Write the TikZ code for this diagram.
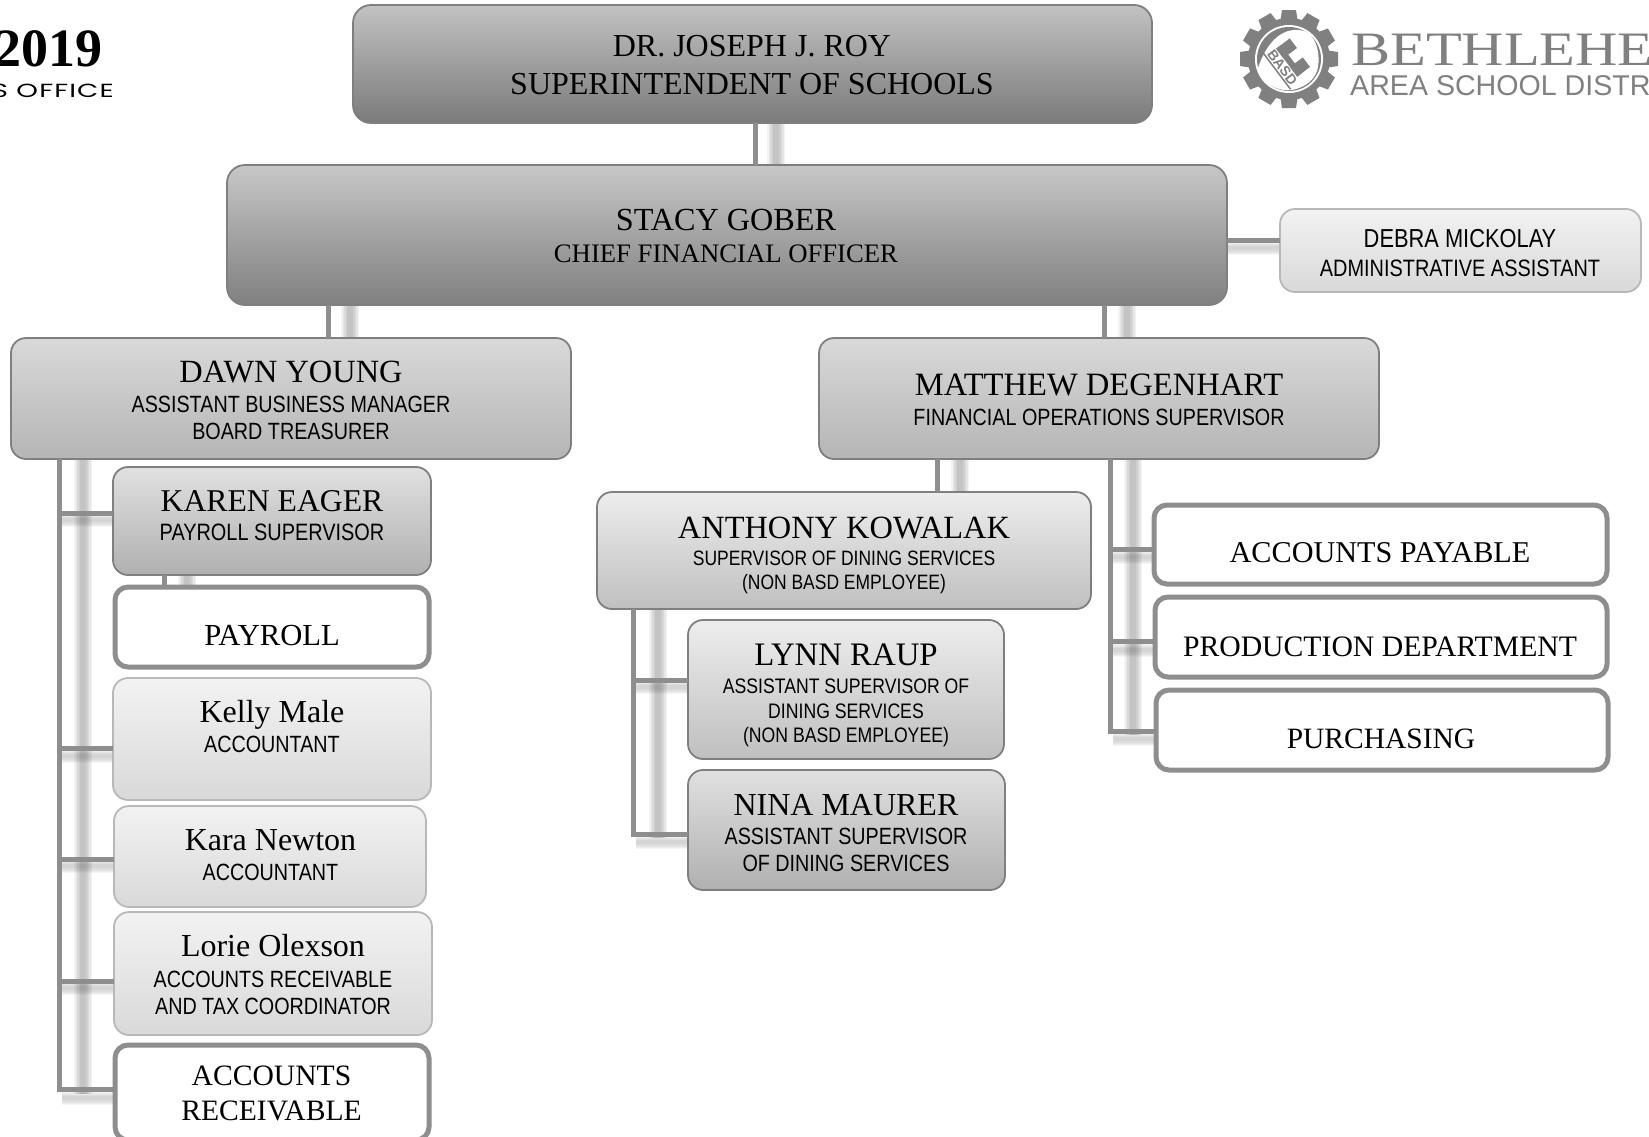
\documentclass[tikz,border=0pt]{standalone}
\usepackage{fontspec}
\setmainfont{Liberation Serif}
\newfontfamily\tlfont[FakeStretch=0.84]{Liberation Sans}
\newfontfamily\lgsans{Liberation Sans}
\newfontfamily\lgserif[FakeStretch=1.22]{Liberation Serif}
\newfontfamily\topfont[LetterSpace=6,FakeStretch=1.45]{Poppins}
\newcommand{\NM}[2][32]{{\fontsize{#1}{#1}\selectfont #2}}
\newcommand{\TL}[2][23.5]{{\tlfont\fontsize{#1}{#1}\selectfont #2}}
\newcommand{\txfont}{\fontsize{24}{27}\selectfont}
\AtBeginDocument{\lineskiplimit=-50pt\relax\lineskip=0pt\relax}
\definecolor{lineg}{HTML}{8E8E8E}
\definecolor{edgedark}{HTML}{7F7F7F}
\definecolor{edgelight}{HTML}{B8B8B8}
\definecolor{logog}{HTML}{808080}
\tikzset{
  orgbox/.style={rectangle,rounded corners=15pt,inner sep=0pt,outer sep=0pt,line width=1.8pt,draw=edgedark},
  lvlA/.style={orgbox,rounded corners=18pt,top color=black!24,bottom color=black!52},
  lvlB/.style={orgbox,rounded corners=18pt,top color=black!22,bottom color=black!50},
  lvlC/.style={orgbox,top color=black!15,bottom color=black!29},
  lvlD/.style={orgbox,top color=black!12,bottom color=black!31},
  lvlE/.style={orgbox,top color=black!7,bottom color=black!25},
  lvlF/.style={orgbox,draw=edgelight,top color=black!5,bottom color=black!15},
  unitbox/.style={orgbox,rounded corners=13pt,fill=white,line width=5pt,draw=lineg},
  tx/.style={inner sep=0pt,align=center,font=\txfont},
  conn/.style={draw=lineg,line width=5pt,line cap=butt},
  softshadow/.style={fill=black,fill opacity=0.05,draw=none},
  softshadowh/.style={fill=black,fill opacity=0.035,draw=none},
}
\newcommand{\ogbox}[6]{%
  \pgfmathsetmacro{\mycx}{(#2+#4)/2}\pgfmathsetmacro{\mycy}{(#3+#5)/2}%
  \pgfmathsetmacro{\myw}{#4-#2}\pgfmathsetmacro{\myh}{#5-#3}%
  \node[#6,minimum width=\myw pt,minimum height=\myh pt] (#1) at (\mycx,\mycy) {};}
\newcommand{\SV}[3]{\foreach \sw in {9,7.5,6,4.5,3}{\fill[softshadow] (#1-\sw,#2) rectangle (#1+\sw,#3);}}
\newcommand{\SH}[3]{\foreach \sw in {7,6,4.5,3.5,2}{\fill[softshadowh] (#1,#3-\sw) rectangle (#2,#3+\sw);}}
\begin{document}
\begin{tikzpicture}[x=1pt,y=-1pt]
\useasboundingbox (0,0) rectangle (1649,1136);
% soft shadows of the connectors
\SV{776}{123}{165}
\SV{350}{305}{338}
\SV{1127}{305}{338}
\SV{83}{459}{1094}
\SV{187}{575}{586}
\SV{960}{459}{492}
\SV{1133}{459}{735}
\SV{658}{609}{838}
\SH{1227}{1280}{248}
\SH{62}{113}{520}
\SH{62}{113}{756}
\SH{62}{114}{866}
\SH{62}{114}{988}
\SH{62}{113}{1098}
\SH{1113}{1152}{557}
\SH{1113}{1153}{650}
\SH{1113}{1154}{739}
\SH{636}{688}{687}
\SH{636}{688}{842}
% boxes
\ogbox{super}{353}{5}{1152}{123}{lvlA}
\ogbox{stacy}{227}{165}{1227}{305}{lvlB}
\ogbox{debra}{1280}{209}{1641}{292}{lvlF}
\ogbox{dawn}{11}{338}{571}{459}{lvlC}
\ogbox{matthew}{819}{338}{1379}{459}{lvlC}
\ogbox{karen}{113}{467}{431}{575}{lvlD}
\ogbox{payroll}{115}{587}{429}{667}{unitbox}
\ogbox{kelly}{113}{678}{431}{800}{lvlF}
\ogbox{kara}{114}{806}{426}{907}{lvlF}
\ogbox{lorie}{114}{912}{432}{1035}{lvlF}
\ogbox{ar}{115}{1045}{429}{1140}{unitbox}
\ogbox{anthony}{597}{492}{1091}{609}{lvlE}
\ogbox{lynn}{688}{620}{1004}{759}{lvlE}
\ogbox{nina}{688}{770}{1005}{890}{lvlD}
\ogbox{ap}{1154}{505}{1607}{584}{unitbox}
\ogbox{pd}{1155}{597}{1607}{677}{unitbox}
\ogbox{pur}{1156}{690}{1608}{770}{unitbox}
% connector anchors
\coordinate (c-super) at (755,0);
\coordinate (c-dawn) at (328,0);
\coordinate (c-matt) at (1104,0);
\coordinate (c-debra) at (0,240);
\coordinate (c-pay) at (164,0);
\coordinate (c-anth) at (937,0);
\coordinate (t-dawn) at (59,0);
\coordinate (t-matt) at (1110,0);
\coordinate (t-anth) at (633,0);
% connectors
\draw[conn] (c-super|-super.south) -- (c-super|-stacy.north);
\draw[conn] (c-dawn|-stacy.south) -- (c-dawn|-dawn.north);
\draw[conn] (c-matt|-stacy.south) -- (c-matt|-matthew.north);
\draw[conn] (c-debra-|stacy.east) -- (c-debra-|debra.west);
\draw[conn] (c-pay|-karen.south) -- (c-pay|-payroll.north);
\draw[conn] (c-anth|-matthew.south) -- (c-anth|-anthony.north);
\coordinate (y1) at (0,513);
\coordinate (y2) at (0,748);
\coordinate (y3) at (0,859);
\coordinate (y4) at (0,981);
\coordinate (y5) at (0,1089);
\draw[conn] (t-dawn|-dawn.south) -- (t-dawn|-y5) -- (y5-|ar.west);
\draw[conn] (t-dawn|-y1) -- (y1-|karen.west);
\draw[conn] (t-dawn|-y2) -- (y2-|kelly.west);
\draw[conn] (t-dawn|-y3) -- (y3-|kara.west);
\draw[conn] (t-dawn|-y4) -- (y4-|lorie.west);
\coordinate (y6) at (0,549);
\coordinate (y7) at (0,641);
\coordinate (y8) at (0,731);
\draw[conn] (t-matt|-matthew.south) -- (t-matt|-y8) -- (y8-|pur.west);
\draw[conn] (t-matt|-y6) -- (y6-|ap.west);
\draw[conn] (t-matt|-y7) -- (y7-|pd.west);
\coordinate (y9) at (0,680);
\coordinate (y10) at (0,834);
\draw[conn] (t-anth|-anthony.south) -- (t-anth|-y10) -- (y10-|nina.west);
\draw[conn] (t-anth|-y9) -- (y9-|lynn.west);
% texts
\node[tx] (super-t) at (752,65.5) {\NM[32]{DR. JOSEPH J. ROY}\\[11pt]\NM[32]{SUPERINTENDENT OF SCHOOLS}};
\node[tx] (stacy-t) at (726,236) {\NM[32.2]{STACY GOBER}\\[5pt]\NM[26.7]{CHIEF FINANCIAL OFFICER}};
\node[tx] (debra-t) at (1460,253) {\TL[26]{DEBRA MICKOLAY}\\[2pt]\TL[23.7]{ADMINISTRATIVE ASSISTANT}};
\node[tx] (dawn-t) at (291,400.5) {\NM[32.4]{DAWN YOUNG}\\[3pt]\TL{ASSISTANT BUSINESS MANAGER}\\\TL{BOARD TREASURER}};
\node[tx] (matthew-t) at (1099,400) {\NM[32.6]{MATTHEW DEGENHART}\\[3pt]\TL{FINANCIAL OPERATIONS SUPERVISOR}};
\node[tx] (karen-t) at (272,516) {\NM[31.7]{KAREN EAGER}\\[2pt]\TL[23.7]{PAYROLL SUPERVISOR}};
\node[tx] (payroll-t) at (272,636) {\NM[30.6]{PAYROLL}};
\node[tx] (kelly-t) at (272,726.5) {\NM{Kelly Male}\\[2pt]\TL{ACCOUNTANT}};
\node[tx] (kara-t) at (270.5,855) {\NM{Kara Newton}\\[3pt]\TL{ACCOUNTANT}};
\node[tx] (lorie-t) at (273,974.5) {\NM{Lorie Olexson}\\[4pt]\TL{ACCOUNTS RECEIVABLE}\\\TL{AND TAX COORDINATOR}};
\node[tx] (ar-t) at (271.5,1093) {\NM[29.6]{ACCOUNTS}\\[8pt]\NM[29.6]{RECEIVABLE}};
\node[tx] (anthony-t) at (844,555) {\NM[32.4]{ANTHONY KOWALAK}\\[0pt]\TL[20.8]{SUPERVISOR OF DINING SERVICES}\\[-3pt]\TL[20.8]{(NON BASD EMPLOYEE)}};
\node[tx] (lynn-t) at (846,695.5) {\NM[32.8]{LYNN RAUP}\\[1pt]\TL[21]{ASSISTANT SUPERVISOR OF}\\[-2.5pt]\TL[21]{DINING SERVICES}\\[-2.5pt]\TL[21]{(NON BASD EMPLOYEE)}};
\node[tx] (nina-t) at (846,833) {\NM{NINA MAURER}\\[2pt]\TL{ASSISTANT SUPERVISOR}\\\TL{OF DINING SERVICES}};
\node[tx] (ap-t) at (1380,553) {\NM[30.2]{ACCOUNTS PAYABLE}};
\node[tx] (pd-t) at (1380,647) {\NM[29.7]{PRODUCTION DEPARTMENT}};
\node[tx] (pur-t) at (1381,739) {\NM[29.5]{PURCHASING}};
% header, cut by the page edge
\node[inner sep=0pt,anchor=base east,font=\fontsize{54}{54}\selectfont\bfseries] (year) at (102.5,66) {2019};
\node[inner sep=0pt,anchor=base east,font=\topfont\fontsize{19}{19}\selectfont] (office) at (114,97) {S OFFICE};
% logo
\begin{scope}[shift={(1289,59)}]
  \foreach \a in {0,30,...,330}{
    \fill[logog,rotate=\a] (-7,-49) -- (7,-49) -- (9,-36) -- (-9,-36) -- cycle;
  }
  \fill[logog] (0,0) circle (41);
  \fill[white] (0,0) circle (34);
  \fill[logog] (0,0) circle (32);
  \fill[white] (-31,9) .. controls (-20,-24) and (0,-34) .. (18,-27) .. controls (28,-20) and (31,-5) .. (29,8) .. controls (26,26) and (5,33) .. (-6,31) .. controls (-20,28) and (-29,20) .. (-31,9) -- cycle;
  \begin{scope}[rotate=-53]
    \fill[logog] (-16,-13) rectangle (-4,4);
    \fill[logog] (7,-12) rectangle (19,4);
    \fill[logog] (-16,-2) rectangle (19,4);
    \draw[logog,line width=1.5pt] (-20,17) -- (25,17);
    \node[rotate=-53,text=logog,inner sep=0pt,font=\lgsans\bfseries\fontsize{14}{14}\selectfont] (basd) at (3,10.5) {BASD};
  \end{scope}
\end{scope}
\node[anchor=base west,inner sep=0pt,text=logog,font=\lgserif\fontsize{48}{48}\selectfont] (bethlehem) at (1351,65) {BETHLEHE};
\node[anchor=base west,inner sep=0pt,text=logog,font=\lgsans\fontsize{28.6}{28.6}\selectfont] (area) at (1350,95) {AREA SCHOOL DISTR};
\end{tikzpicture}
\end{document}
